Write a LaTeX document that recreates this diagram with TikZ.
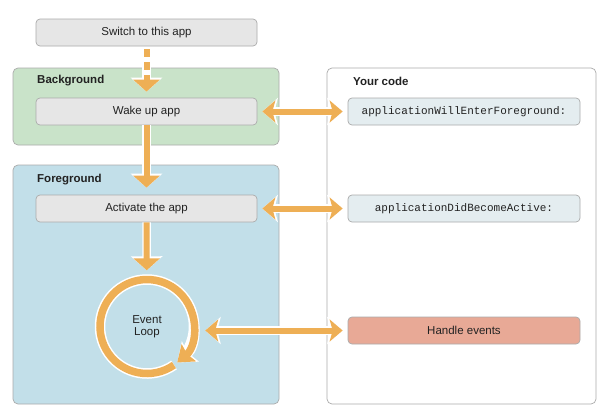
\documentclass[tikz,border=0pt]{standalone}
\usepackage{fontspec}
\setmainfont{Liberation Sans}
\setmonofont{Liberation Mono}
\usetikzlibrary{arrows.meta}
\definecolor{arr}{HTML}{EEAF55}
\definecolor{grayfill}{HTML}{E6E6E6}
\definecolor{grayline}{HTML}{ABABAB}
\definecolor{bggreen}{HTML}{C9E3C9}
\definecolor{fgblue}{HTML}{C2DFE9}
\definecolor{codefill}{HTML}{E4EDF0}
\definecolor{handlefill}{HTML}{E8A996}
\definecolor{txt}{HTML}{222222}
\begin{document}
\begin{tikzpicture}[x=1pt,y=-1pt, font=\fontsize{11.5}{13}\selectfont, text=txt,
 stepbox/.style={draw=grayline, fill=grayfill, rounded corners=4pt, minimum width=221pt, minimum height=27pt, inner sep=0pt, line width=0.7pt},
 codebox/.style={stepbox, fill=codefill, minimum width=232pt, font=\ttfamily\fontsize{11}{13}\selectfont},
 region/.style={draw=grayline, rounded corners=5pt, line width=0.7pt, inner sep=0pt},
 title/.style={font=\bfseries\fontsize{11.5}{13}\selectfont, anchor=west, inner sep=0pt},
 flow/.style={draw=arr, line width=6pt, -{Triangle[length=12pt,width=26pt]},
   preaction={draw=white, line width=8.5pt, -{Triangle[length=14pt,width=31pt]}}},
 dbl/.style={draw=arr, line width=6pt,
   {Stealth[length=13pt,width=22pt,inset=3pt]}-{Stealth[length=13pt,width=22pt,inset=3pt]},
   preaction={draw=white, line width=8.5pt, {Stealth[length=15.5pt,width=27pt,inset=3.5pt]}-{Stealth[length=15.5pt,width=27pt,inset=3.5pt]}}}
]
\useasboundingbox[fill=white] (0,0) rectangle (608,418);

% regions
\node[region, fill=bggreen, minimum width=266pt, minimum height=77pt] (bg) at (146,106.5) {};
\node[region, fill=fgblue, minimum width=266pt, minimum height=239pt] (fg) at (146,284.5) {};
\node[region, fill=white, minimum width=269pt, minimum height=336pt] (code) at (461.5,236) {};

\node[title] (bgt) at (37,81) {Background};
\node[title] (fgt) at (37,180) {Foreground};
\node[title] (codet) at (353,81) {Your code};

% boxes
\node[stepbox] (switch) at (146.5,32.5) {Switch to this app};
\node[stepbox] (wake) at (146.5,111.5) {Wake up app};
\node[stepbox] (activate) at (146.5,208.5) {Activate the app};

\node[codebox] (will) at (464,111.5) {applicationWillEnterForeground:};
\node[codebox] (did) at (464,208.5) {applicationDidBecomeActive:};
\node[stepbox, fill=handlefill, minimum width=232pt] (handle) at (464,330.5) {Handle events};

% event loop
\node[circle, minimum size=102pt, inner sep=0pt, align=center] (loop) at (147,326.5) {Event\\[-1pt]Loop};
\draw[white, line width=10.5pt] (loop.center) ++(55:47) arc[start angle=55, end angle=395, radius=47];
\draw[arr, line width=7.5pt, -{Stealth[length=15pt,width=22pt,inset=2pt]},
  preaction={draw=white, line width=9.5pt, -{Stealth[length=17pt,width=26pt,inset=2.5pt]}}]
  (loop.center) ++(55:47) arc[start angle=55, end angle=410, radius=47];

% flow arrows
\draw[flow, dash pattern=on 8pt off 5pt, shorten <=3pt, shorten >=6pt] (switch) -- (wake);
\draw[flow, shorten >=7pt] (wake) -- (activate);
\draw[flow, shorten >=5pt] (activate) -- (loop);

% double arrows
\draw[dbl, shorten <=5pt, shorten >=5pt] (wake) -- (will);
\draw[dbl, shorten <=5pt, shorten >=5pt] (activate) -- (did);
\draw[dbl, shorten <=7pt, shorten >=5pt] (loop.east |- handle) -- (handle);
\end{tikzpicture}
\end{document}
